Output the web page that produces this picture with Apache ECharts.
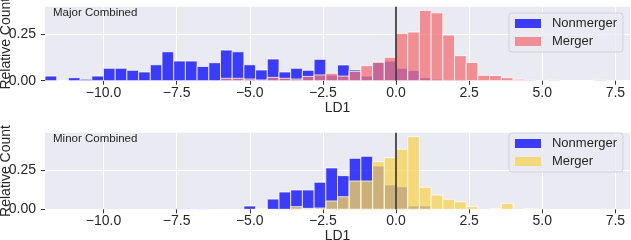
<!DOCTYPE html>
<html>
<head>
<meta charset="utf-8">
<script src="https://cdn.jsdelivr.net/npm/echarts@6/dist/echarts.min.js"></script>
<style>
html,body{margin:0;padding:0;background:#fff;}
#chart{width:631px;height:240px;}
</style>
</head>
<body>
<div id="chart"></div>
<script>
// Histogram bin left edges (LD1), bin width 0.4
const binLeft = [-12,-11.6,-11.2,-10.8,-10.4,-10,-9.6,-9.2,-8.8,-8.4,-8,-7.6,-7.2,-6.8,-6.4,-6,-5.6,-5.2,-4.8,-4.4,-4,-3.6,-3.2,-2.8,-2.4,-2,-1.6,-1.2,-0.8,-0.4,0,0.4,0.8,1.2,1.6,2,2.4,2.8,3.2,3.6,4,4.4,4.8,5.2,5.6,6,6.4,6.8,7.2,7.6];
const binWidth = 0.4;

// Major Combined
const majorNonmerger = [0.025,0,0.016,0.008,0.025,0.067,0.067,0.056,0.047,0.086,0.156,0.106,0.106,0.077,0.097,0.165,0.156,0.086,0.058,0.117,0.047,0.067,0.056,0.115,0.03,0.085,0.058,0.025,0.098,0.106,0.067,0.055,0.016,0.008,0.004,0.004,0,0,0,0,0,0,0,0,0,0,0,0,0,0];
const majorMerger = [0,0,0,0,0,0,0,0,0,0,0,0,0,0,0,0.013,0.013,0.009,0.004,0.018,0.013,0.009,0.023,0.031,0.04,0.025,0.05,0.081,0.1,0.126,0.255,0.262,0.379,0.366,0.246,0.135,0.098,0.029,0.028,0.016,0.008,0.005,0,0.005,0,0,0,0.005,0,0];

// Minor Combined
const minorNonmerger = [0,0,0,0,0,0,0,0,0,0,0,0.005,0,0.005,0,0,0,0.021,0,0.065,0.11,0.123,0.123,0.172,0.263,0.214,0.324,0.337,0.275,0.155,0.143,0.021,0.021,0,0,0,0,0,0,0,0,0,0,0,0,0,0,0,0,0];
const minorMerger = [0,0,0,0,0,0,0,0,0,0,0,0,0,0,0,0,0,0,0.005,0,0,0.017,0.006,0.008,0.053,0.08,0.18,0.18,0.303,0.328,0.382,0.462,0.14,0.091,0.064,0.048,0.017,0,0.005,0.038,0,0.005,0,0,0,0,0,0,0,0];

const xTicks = [-10,-7.5,-5,-2.5,0,2.5,5,7.5];
const yTicks = [0,0.25];
const yMax = [0.399, 0.487];
const dividerX = 0;
const panelTitles = ['Major Combined','Minor Combined'];
const seriesNames = ['Nonmerger','Merger'];

const BLUE = 'rgba(0,0,255,0.75)';
const PINK = 'rgba(242,115,119,0.77)';
const YELLOW = 'rgba(248,212,83,0.77)';
const TXT = '#262626';
const FONT = 'Liberation Sans';

function histData(vals){ return binLeft.map((l,i)=>[l, l+binWidth, vals[i]]); }
function render(color){
  return function(params, api){
    const v = api.value(2);
    if (!v) return null;
    const p0 = api.coord([api.value(0), v]);
    const p1 = api.coord([api.value(1), 0]);
    return {type:'rect', shape:{x:p0[0], y:p0[1], width:p1[0]-p0[0], height:p1[1]-p0[1]},
      style:{fill:color, stroke:'rgba(255,255,255,0.75)', lineWidth:1}};
  };
}
function renderLine(params, api){
  const a = api.coord([api.value(0), api.value(1)]);
  const b = api.coord([api.value(0), api.value(2)]);
  return {type:'line', shape:{x1:a[0], y1:a[1], x2:b[0], y2:b[1]}, style:{stroke:'#1e1e1e', lineWidth:1.5}};
}
function xAxis(gi){
  return {type:'value', gridIndex:gi, min:-12, max:8,
    axisLine:{show:false, onZero:false},
    axisTick:{show:true, length:4, lineStyle:{color:'#333'}, customValues:xTicks},
    axisLabel:{customValues:xTicks, color:TXT, fontFamily:FONT, fontSize:14, margin:5,
      formatter:v=>(v<0?'\u2212':'')+Math.abs(v).toFixed(1)},
    splitLine:{show:true, lineStyle:{color:'#fff', width:1}},
    name:'LD1', nameLocation:'middle', nameGap:20,
    nameTextStyle:{color:TXT, fontFamily:FONT, fontSize:14}
  };
}
function yAxis(gi){
  return {type:'value', gridIndex:gi, min:0, max:yMax[gi],
    axisLine:{show:false, onZero:false},
    axisTick:{show:true, length:4, lineStyle:{color:'#333'}, customValues:yTicks},
    axisLabel:{customValues:yTicks, color:TXT, fontFamily:FONT, fontSize:14, margin:9,
      formatter:v=>v.toFixed(2)},
    splitLine:{show:true, lineStyle:{color:'#fff', width:1}}
  };
}
function legend(top, mergerColor){
  return {orient:'vertical', right:8, top:top, itemWidth:26, itemHeight:9, itemGap:5,
    icon:'rect', padding:[4,6,4,6],
    backgroundColor:'rgba(234,234,242,0.8)', borderColor:'#d2d2da', borderWidth:1, borderRadius:3,
    textStyle:{color:TXT, fontFamily:FONT, fontSize:13, padding:[0,0,0,6]},
    data:[{name:'Nonmerger', itemStyle:{color:BLUE}}, {name:'Merger', itemStyle:{color:mergerColor}}]
  };
}
function yName(cy){
  return {type:'text', x:6, y:cy, rotation:Math.PI/2, z:10,
    style:{text:'Relative Count', fill:TXT, font:'14px "Liberation Sans"', align:'center', verticalAlign:'middle'}};
}

const chart = echarts.init(document.getElementById('chart'), null, {renderer:'canvas'});
chart.setOption({
  animation:false,
  backgroundColor:'#fff',
  title:[
    {text:panelTitles[0], left:53, top:7, padding:0, textStyle:{color:TXT, fontFamily:FONT, fontSize:11.5, fontWeight:'normal'}},
    {text:panelTitles[1], left:53, top:133, padding:0, textStyle:{color:TXT, fontFamily:FONT, fontSize:11.5, fontWeight:'normal'}}
  ],
  graphic:[yName(43.7), yName(171)],
  grid:[
    {left:45, right:1, top:6.7, height:74, backgroundColor:'#eaeaf2', show:true, borderWidth:0, containLabel:false, outerBoundsMode:'none'},
    {left:45, right:1, top:132.7, height:76.6, backgroundColor:'#eaeaf2', show:true, borderWidth:0, containLabel:false, outerBoundsMode:'none'}
  ],
  xAxis:[xAxis(0), xAxis(1)],
  yAxis:[yAxis(0), yAxis(1)],
  legend:[legend(13, PINK), legend(133, YELLOW)],
  series:[
    {name:seriesNames[0], type:'custom', xAxisIndex:0, yAxisIndex:0, renderItem:render(BLUE), itemStyle:{color:BLUE},
      encode:{x:[0,1], y:2}, data:histData(majorNonmerger), clip:true},
    {name:seriesNames[1], type:'custom', xAxisIndex:0, yAxisIndex:0, renderItem:render(PINK), itemStyle:{color:PINK},
      encode:{x:[0,1], y:2}, data:histData(majorMerger), clip:true},
    {name:'divider', type:'custom', xAxisIndex:0, yAxisIndex:0, renderItem:renderLine, z:5,
      encode:{x:0, y:[1,2]}, data:[[dividerX, 0, yMax[0]]], silent:true},
    {name:seriesNames[0], type:'custom', xAxisIndex:1, yAxisIndex:1, renderItem:render(BLUE), itemStyle:{color:BLUE},
      encode:{x:[0,1], y:2}, data:histData(minorNonmerger), clip:true},
    {name:seriesNames[1], type:'custom', xAxisIndex:1, yAxisIndex:1, renderItem:render(YELLOW), itemStyle:{color:YELLOW},
      encode:{x:[0,1], y:2}, data:histData(minorMerger), clip:true},
    {name:'divider', type:'custom', xAxisIndex:1, yAxisIndex:1, renderItem:renderLine, z:5,
      encode:{x:0, y:[1,2]}, data:[[dividerX, 0, yMax[1]]], silent:true}
  ]
});
</script>
</body>
</html>
